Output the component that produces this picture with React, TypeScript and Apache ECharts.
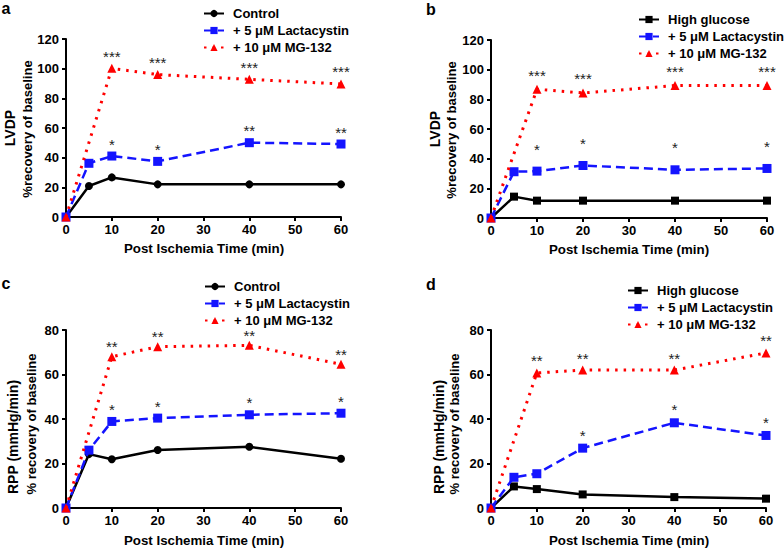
import React, { useEffect, useRef } from "react";
import * as echarts from "echarts";

// ---- data ----
const times = [0, 5, 10, 20, 40, 60];
const mgTimes = [0, 10, 20, 40, 60];
const xTicks = [0, 10, 20, 30, 40, 50, 60];

// panel a (LVDP, control)
const aControl = [0, 20.9, 26.7, 22, 22, 22];
const aLact = [0, 36.2, 41.1, 37.5, 50.1, 49.2];
const aMG = [0, 100.2, 96, 92.8, 89.7];
const aLactStars = ["", "", "*", "*", "**", "**"];
const aMGStars = ["", "***", "***", "***", "***"];

// panel b (LVDP, high glucose)
const bHG = [0, 14.4, 11.7, 11.7, 11.7, 11.7];
const bLact = [0, 31.2, 31.6, 35.4, 32.5, 33.4];
const bMG = [0, 86.8, 84.3, 89.3, 89.3];
const bLactStars = ["", "", "*", "*", "*", "*"];
const bMGStars = ["", "***", "***", "***", "***"];

// panel c (RPP, control)
const cControl = [0, 24.2, 21.9, 26.1, 27.5, 22.1];
const cLact = [0, 26, 38.9, 40.4, 41.9, 42.6];
const cMG = [0, 68, 72.5, 73.1, 64.6];
const cLactStars = ["", "", "*", "*", "*", "*"];
const cMGStars = ["", "**", "**", "**", "**"];

// panel d (RPP, high glucose)
const dHG = [0, 9.7, 8.5, 6.1, 4.9, 4.2];
const dLact = [0, 13.8, 15.4, 26.9, 38.3, 32.6];
const dMG = [0, 60.7, 62, 62, 69.7];
const dLactStars = ["", "", "", "*", "*", "*"];
const dMGStars = ["", "**", "**", "**", "**"];

const NAME_CONTROL = "Control";
const NAME_HG = "High glucose";
const NAME_LACT = "+ 5 \u03bcM Lactacystin";
const NAME_MG = "+ 10 \u03bcM MG-132";
const X_TITLE = "Post Ischemia Time (min)";

const FONT = "Arial";
const BLUE = "#1414ff";
const RED = "#ff0000";

function pts(ts: number[], vs: number[], stars?: string[]) {
  return ts.map((t, i) => {
    const s = stars ? stars[i] : "";
    if (s) return { value: [t, vs[i]], label: { show: true, formatter: s } };
    return { value: [t, vs[i]] };
  });
}

function starLabel(dist: number) {
  return {
    show: false,
    position: "top",
    distance: dist,
    fontSize: 15,
    fontFamily: FONT,
    color: "#222",
  };
}

function baseSeries(
  idx: number,
  name: string,
  kind: "control" | "hg" | "lact" | "mg",
  data: any[],
  dist: number
) {
  const common: any = {
    type: "line",
    name,
    xAxisIndex: idx,
    yAxisIndex: idx,
    data,
    z: kind === "mg" ? 4 : kind === "lact" ? 3 : 2,
    label: starLabel(dist),
  };
  if (kind === "control" || kind === "hg") {
    return {
      ...common,
      symbol: kind === "control" ? "circle" : "rect",
      symbolSize: 8,
      itemStyle: { color: "#000" },
      lineStyle: { color: "#000", width: 2.5, type: "solid" },
    };
  }
  if (kind === "lact") {
    return {
      ...common,
      symbol: "rect",
      symbolSize: 9,
      itemStyle: { color: BLUE },
      lineStyle: { color: BLUE, width: 2.5, type: [9, 5] },
    };
  }
  return {
    ...common,
    symbol: "triangle",
    symbolSize: 9,
    itemStyle: { color: RED },
    lineStyle: { color: RED, width: 3, type: [2.5, 6] },
  };
}

const grids = [
  { left: 66, top: 39, width: 275, height: 178 },
  { left: 491, top: 40, width: 276, height: 178 },
  { left: 66, top: 330, width: 275, height: 178 },
  { left: 491, top: 330, width: 275, height: 178 },
];
const yMax = [120, 120, 80, 80];

export default function App() {
  const ref = useRef<HTMLDivElement>(null);
  useEffect(() => {
    if (!ref.current) return;
    const chart = echarts.init(ref.current, null, { renderer: "svg" });

    const axisCommon = {
      axisLine: { show: true, onZero: false, lineStyle: { color: "#000", width: 2 } },
      axisTick: { show: true, length: 4, lineStyle: { color: "#000", width: 2 } },
      splitLine: { show: false },
    };

    const xAxis = grids.map((_, i) => ({
      type: "value",
      gridIndex: i,
      min: xTicks[0],
      max: xTicks[xTicks.length - 1],
      interval: 10,
      ...axisCommon,
      axisLabel: {
        color: "#000",
        fontSize: 13,
        fontWeight: "bold",
        fontFamily: FONT,
        margin: 6,
      },
    }));
    const yAxis = grids.map((_, i) => ({
      type: "value",
      gridIndex: i,
      min: 0,
      max: yMax[i],
      interval: 20,
      ...axisCommon,
      axisLabel: {
        color: "#000",
        fontSize: 13,
        fontWeight: "bold",
        fontFamily: FONT,
        margin: 7,
      },
    }));

    const series = [
      baseSeries(0, NAME_CONTROL, "control", pts(times, aControl), 4),
      baseSeries(0, NAME_LACT, "lact", pts(times, aLact, aLactStars), 0),
      baseSeries(0, NAME_MG, "mg", pts(mgTimes, aMG, aMGStars), 0),
      baseSeries(1, NAME_HG, "hg", pts(times, bHG), 4),
      baseSeries(1, NAME_LACT, "lact", pts(times, bLact, bLactStars), 10),
      baseSeries(1, NAME_MG, "mg", pts(mgTimes, bMG, bMGStars), 2),
      baseSeries(2, NAME_CONTROL, "control", pts(times, cControl), 4),
      baseSeries(2, NAME_LACT, "lact", pts(times, cLact, cLactStars), 0),
      baseSeries(2, NAME_MG, "mg", pts(mgTimes, cMG, cMGStars), -2),
      baseSeries(3, NAME_HG, "hg", pts(times, dHG), 4),
      baseSeries(3, NAME_LACT, "lact", pts(times, dLact, dLactStars), 1),
      baseSeries(3, NAME_MG, "mg", pts(mgTimes, dMG, dMGStars), 0),
    ];

    const legendCommon = {
      orient: "vertical",
      itemWidth: 20,
      itemHeight: 9,
      itemGap: 4,
      selectedMode: false,
      textStyle: {
        color: "#000",
        fontSize: 13,
        fontWeight: "bold",
        fontFamily: FONT,
        padding: [0, 0, 0, 4],
      },
    };
    const legend = [
      { ...legendCommon, left: 198, top: 2, data: [NAME_CONTROL, NAME_LACT, NAME_MG] },
      { ...legendCommon, left: 633, top: 8, data: [NAME_HG, NAME_LACT, NAME_MG] },
      { ...legendCommon, left: 199, top: 275, data: [NAME_CONTROL, NAME_LACT, NAME_MG] },
      { ...legendCommon, left: 622, top: 279, data: [NAME_HG, NAME_LACT, NAME_MG] },
    ];

    const txtStyle = (text: string, size: number) => ({
      text,
      fontSize: size,
      fontWeight: "bold",
      fontFamily: FONT,
      fill: "#000",
      align: "center",
      verticalAlign: "middle",
    });
    const rotText = (text: string, x: number, y: number, size: number) => ({
      type: "text",
      x,
      y,
      rotation: Math.PI / 2,
      style: txtStyle(text, size),
    });
    const plainText = (text: string, x: number, y: number, size: number) => ({
      type: "text",
      x,
      y,
      style: txtStyle(text, size),
    });

    const graphic = [
      plainText("a", 6, 8, 16),
      plainText("b", 431, 9, 16),
      plainText("c", 6, 283, 16),
      plainText("d", 431, 284, 16),
      rotText("LVDP", 10, 128, 14),
      rotText("%recovery of baseline", 27, 129, 13),
      rotText("LVDP", 435, 129, 14),
      rotText("%recovery of baseline", 451, 130, 13),
      rotText("RPP (mmHg/min)", 13, 437, 14),
      rotText("% recovery of baseline", 31, 424, 13),
      rotText("RPP (mmHg/min)", 439, 437, 14),
      rotText("% recovery of baseline", 454, 424, 13),
      plainText(X_TITLE, 204, 248, 13.3),
      plainText(X_TITLE, 629, 249, 13.3),
      plainText(X_TITLE, 204, 540, 13.3),
      plainText(X_TITLE, 629, 540, 13.3),
    ];

    chart.setOption({
      animation: false,
      backgroundColor: "#fff",
      grid: grids,
      xAxis,
      yAxis,
      legend,
      series,
      graphic,
    } as any);
    return () => chart.dispose();
  }, []);

  return (
    <div
      ref={ref}
      style={{ position: "fixed", left: 0, top: 0, width: 784, height: 549, background: "#fff" }}
    />
  );
}
